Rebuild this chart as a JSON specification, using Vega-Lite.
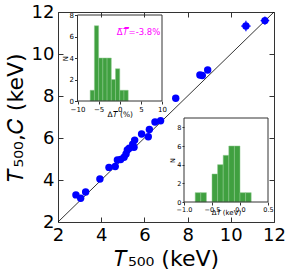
{
  "$schema": "https://vega.github.io/schema/vega-lite/v6.json",
  "width": 216,
  "height": 210,
  "autosize": "none",
  "padding": {"left": 58, "top": 12, "right": 17, "bottom": 51},
  "config": {
    "view": {"stroke": "#333", "strokeWidth": 1},
    "axis": {"grid": false, "labelFont": "DejaVu Sans", "titleFont": "DejaVu Sans", "labelColor": "black", "titleColor": "black", "tickColor": "#333", "domainColor": "#333", "titleFontWeight": "normal"},
    "text": {"font": "DejaVu Sans"}
  },
  "layer": [
    {
      "data": {"values": [{"v": 2}, {"v": 12}]},
      "mark": {"type": "line", "color": "black", "strokeWidth": 0.8},
      "encoding": {
        "x": {"field": "v", "type": "quantitative", "scale": {"domain": [2, 12], "nice": false}, "axis": {"orient": "top", "labels": false, "title": null, "tickSize": -5, "domain": false, "values": [2, 4, 6, 8, 10, 12]}},
        "y": {"field": "v", "type": "quantitative", "scale": {"domain": [2, 12], "nice": false}, "axis": {"orient": "right", "labels": false, "title": null, "tickSize": -5, "domain": false, "values": [2, 4, 6, 8, 10, 12]}}
      }
    },
    {
      "data": {"values": [
        {"t500": 2.83, "t500c": 3.29, "ex": 0.06, "ey": 0.06},
        {"t500": 3.05, "t500c": 3.13, "ex": 0.06, "ey": 0.06},
        {"t500": 3.28, "t500c": 3.43, "ex": 0.06, "ey": 0.06},
        {"t500": 3.94, "t500c": 4.05, "ex": 0.06, "ey": 0.06},
        {"t500": 4.36, "t500c": 4.60, "ex": 0.06, "ey": 0.06},
        {"t500": 4.65, "t500c": 4.64, "ex": 0.06, "ey": 0.06},
        {"t500": 4.75, "t500c": 4.95, "ex": 0.06, "ey": 0.06},
        {"t500": 4.90, "t500c": 4.98, "ex": 0.06, "ey": 0.06},
        {"t500": 5.06, "t500c": 5.08, "ex": 0.06, "ey": 0.06},
        {"t500": 5.15, "t500c": 5.24, "ex": 0.06, "ey": 0.06},
        {"t500": 5.21, "t500c": 5.43, "ex": 0.06, "ey": 0.06},
        {"t500": 5.30, "t500c": 5.51, "ex": 0.06, "ey": 0.06},
        {"t500": 5.46, "t500c": 5.71, "ex": 0.06, "ey": 0.06},
        {"t500": 5.52, "t500c": 5.56, "ex": 0.06, "ey": 0.06},
        {"t500": 5.55, "t500c": 5.90, "ex": 0.06, "ey": 0.06},
        {"t500": 5.87, "t500c": 6.19, "ex": 0.06, "ey": 0.06},
        {"t500": 6.18, "t500c": 6.06, "ex": 0.06, "ey": 0.06},
        {"t500": 6.23, "t500c": 6.41, "ex": 0.06, "ey": 0.06},
        {"t500": 6.49, "t500c": 6.76, "ex": 0.06, "ey": 0.06},
        {"t500": 6.75, "t500c": 6.82, "ex": 0.06, "ey": 0.06},
        {"t500": 7.45, "t500c": 7.89, "ex": 0.08, "ey": 0.08},
        {"t500": 8.57, "t500c": 9.00, "ex": 0.08, "ey": 0.08},
        {"t500": 8.68, "t500c": 8.98, "ex": 0.08, "ey": 0.08},
        {"t500": 8.93, "t500c": 9.24, "ex": 0.08, "ey": 0.08},
        {"t500": 10.70, "t500c": 11.33, "ex": 0.22, "ey": 0.25},
        {"t500": 11.58, "t500c": 11.59, "ex": 0.2, "ey": 0.2}
      ]},
      "encoding": {
        "x": {"field": "t500", "type": "quantitative", "scale": {"domain": [2, 12], "nice": false}, "axis": {"orient": "bottom", "title": "𝑇₅₀₀ (keV)", "titleFontSize": 22, "titlePadding": 4, "labelFontSize": 18, "tickSize": -5, "labelPadding": 9, "domain": false, "values": [2, 4, 6, 8, 10, 12], "labelFlush": false, "labelOverlap": false}},
        "y": {"field": "t500c", "type": "quantitative", "scale": {"domain": [2, 12], "nice": false}, "axis": {"orient": "left", "title": "𝑇₅₀₀,𝐶 (keV)", "titleFontSize": 22, "titlePadding": 4, "labelFontSize": 18, "tickSize": -5, "labelPadding": 9, "domain": false, "values": [2, 4, 6, 8, 10, 12], "labelFlush": false, "labelOverlap": false}}
      },
      "layer": [
        {"mark": {"type": "errorbar", "color": "blue", "ticks": false, "thickness": 1.2}, "encoding": {"yError": {"field": "ey"}}},
        {"mark": {"type": "errorbar", "color": "blue", "ticks": false, "thickness": 1.2}, "encoding": {"xError": {"field": "ex"}}},
        {"mark": {"type": "circle", "color": "blue", "opacity": 1, "size": 55}}
      ]
    },
    {
      "layer": [
        {
          "data": {"values": [
            {"lo": -7, "hi": -6, "n": 1},
            {"lo": -6, "hi": -5, "n": 7},
            {"lo": -5, "hi": -4, "n": 4},
            {"lo": -4, "hi": -3, "n": 4},
            {"lo": -3, "hi": -2, "n": 4},
            {"lo": -2, "hi": -1, "n": 2},
            {"lo": -1, "hi": 0, "n": 3},
            {"lo": 0, "hi": 1, "n": 1},
            {"lo": 1, "hi": 2, "n": 1}
          ]},
          "mark": {"type": "bar", "color": "#40a040", "stroke": "#8cc88c", "strokeWidth": 0.5},
          "encoding": {
            "x": {"field": "lo", "type": "quantitative", "scale": {"domain": [-10, 10], "range": [19.5, 104], "nice": false}, "axis": {"orient": "bottom", "offset": -121, "values": [-10, -5, 0, 5, 10], "format": "d", "labelFontSize": 7, "tickSize": 3, "labelPadding": 1, "domain": false, "title": "Δ𝑇 (%)", "titleFontSize": 7.5, "titlePadding": -2, "labelFlush": false, "labelOverlap": false}},
            "x2": {"field": "hi"},
            "y": {"field": "n", "type": "quantitative", "scale": {"domain": [0, 8], "range": [89, 3], "nice": false}, "axis": {"orient": "left", "offset": -19.5, "values": [0, 2, 4, 6, 8], "labelFontSize": 7, "tickSize": 3, "labelPadding": 1, "domain": false, "title": "N", "titleFontSize": 7, "titlePadding": 1, "labelFlush": false, "labelOverlap": false}},
            "y2": {"datum": 0}
          }
        },
        {
          "data": {"values": [{}]},
          "mark": {"type": "rect", "fill": null, "stroke": "#333", "strokeWidth": 1},
          "encoding": {"x": {"datum": -10, "type": "quantitative"}, "x2": {"datum": 10}, "y": {"datum": 0, "type": "quantitative"}, "y2": {"datum": 8}}
        },
        {
          "data": {"values": [{}]},
          "mark": {"type": "text", "text": "Δ̅𝑇̅=-3.8%", "color": "#ff00ff", "fontSize": 8.5, "align": "right", "baseline": "alphabetic"},
          "encoding": {"x": {"datum": 9.6, "type": "quantitative"}, "y": {"datum": 6.1, "type": "quantitative"}}
        }
      ]
    },
    {
      "layer": [
        {
          "data": {"values": [
            {"lo": -0.8, "hi": -0.7, "n": 1},
            {"lo": -0.7, "hi": -0.6, "n": 1},
            {"lo": -0.5, "hi": -0.4, "n": 3},
            {"lo": -0.4, "hi": -0.3, "n": 4},
            {"lo": -0.3, "hi": -0.2, "n": 5},
            {"lo": -0.2, "hi": -0.1, "n": 6},
            {"lo": -0.1, "hi": 0.0, "n": 6},
            {"lo": 0.0, "hi": 0.1, "n": 1},
            {"lo": 0.1, "hi": 0.2, "n": 1}
          ]},
          "mark": {"type": "bar", "color": "#40a040", "stroke": "#8cc88c", "strokeWidth": 0.5},
          "encoding": {
            "x": {"field": "lo", "type": "quantitative", "scale": {"domain": [-1, 0.5], "range": [126, 210], "nice": false, "zero": false}, "axis": {"orient": "bottom", "offset": -20, "values": [-1, -0.5, 0, 0.5], "format": ".1f", "labelFontSize": 6.5, "tickSize": 3, "labelPadding": 1, "domain": false, "title": "Δ𝑇 (keV)", "titleFontSize": 7, "titlePadding": -4, "labelFlush": false, "labelOverlap": false}},
            "x2": {"field": "hi"},
            "y": {"field": "n", "type": "quantitative", "scale": {"domain": [0, 9], "range": [190, 106], "nice": false}, "axis": {"orient": "left", "offset": -126, "values": [0, 2, 4, 6, 8], "labelFontSize": 6.5, "tickSize": 2, "labelPadding": 1, "domain": false, "title": "N", "titleFontSize": 6.5, "titlePadding": 1, "labelFlush": false, "labelOverlap": false}},
            "y2": {"datum": 0}
          }
        },
        {
          "data": {"values": [{}]},
          "mark": {"type": "rect", "fill": null, "stroke": "#333", "strokeWidth": 1},
          "encoding": {"x": {"datum": -1, "type": "quantitative"}, "x2": {"datum": 0.5}, "y": {"datum": 0, "type": "quantitative"}, "y2": {"datum": 9}}
        }
      ]
    }
  ],
  "resolve": {"scale": {"x": "independent", "y": "independent"}, "axis": {"x": "independent", "y": "independent"}}
}
